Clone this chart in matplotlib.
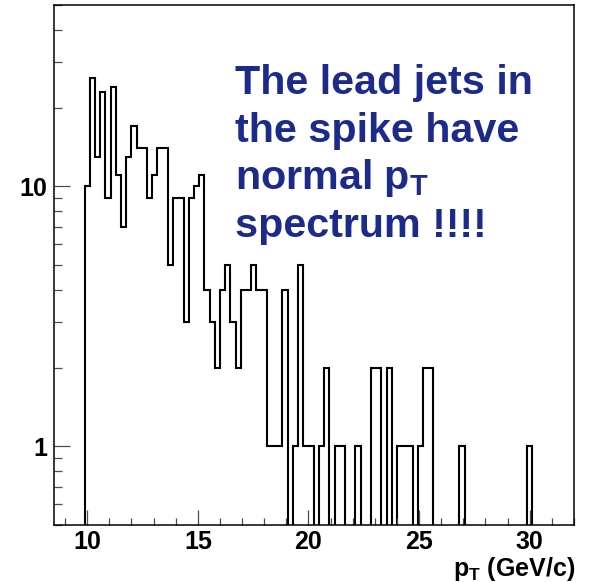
import numpy as np
import matplotlib.pyplot as plt
from matplotlib.ticker import FixedLocator, MultipleLocator, LogLocator, NullFormatter, FuncFormatter

# histogram: counts per bin, binning 170 bins over 0-40 GeV/c, first filled bin is #42
counts = [10, 26, 13, 23, 9, 24, 11, 7, 13, 17,
          14, 14, 9, 11, 14, 14, 5, 9, 9, 3,
          9, 10, 11, 4, 3, 2, 4, 5, 3, 2,
          4, 4, 5, 4, 4, 1, 1, 1, 4, 0,
          1, 5, 1, 1, 0, 1, 2, 0, 1, 1,
          0, 0, 1, 0, 0, 2, 2, 0, 2, 0,
          1, 1, 1, 0, 1, 2, 2, 0, 0, 0,
          0, 0, 1, 0, 0, 0, 0, 0, 0, 0,
          0, 0, 0, 0, 0, 1]
n_bins_total = 170
hist_max = 40.0
first_bin = 42

x_ticks = [10, 15, 20, 25, 30]
y_ticks = [1, 10]
x_title = r"p$_\mathregular{T}$ (GeV/c)"
note_lines = ["The lead jets in", "the spike have",
              r"normal p$_\mathregular{T}$", "spectrum !!!!"]

# style
W, H = 591, 582
note_color = '#1c2a8a'
tick_color = '0.3'
font = 'Liberation Sans'

plt.rcParams['font.family'] = font
plt.rcParams['font.weight'] = 'bold'
plt.rcParams['mathtext.fontset'] = 'custom'
plt.rcParams['mathtext.rm'] = font + ':bold'
plt.rcParams['mathtext.bf'] = font + ':bold'

fig = plt.figure(figsize=(W / 100, H / 100), dpi=100)
ax = fig.add_axes([54 / W, 1 - 524.5 / H, (574 - 54) / W, (524.5 - 4.5) / H])

width = hist_max / n_bins_total
edges = (first_bin + np.arange(len(counts) + 1)) * width
vals = np.array(counts, dtype=float)
floor = 1e-3
ax.stairs(np.where(vals > 0, vals, floor), edges, baseline=floor,
          color='black', lw=1.5)

ax.set_yscale('log')
ax.set_xlim(8.5, 32)
ax.set_ylim(0.5, 50)

ax.xaxis.set_major_locator(FixedLocator(x_ticks))
ax.xaxis.set_minor_locator(MultipleLocator(1))
ax.yaxis.set_major_locator(FixedLocator(y_ticks))
ax.yaxis.set_minor_locator(LogLocator(base=10, subs=np.arange(2, 10)))
ax.yaxis.set_major_formatter(FuncFormatter(lambda v, p: '%g' % v))
ax.yaxis.set_minor_formatter(NullFormatter())

ax.tick_params(which='both', direction='in', top=False, right=False,
               color=tick_color, width=0.9, labelsize=18)
ax.tick_params(axis='x', which='major', length=11, pad=4)
ax.tick_params(axis='x', which='minor', length=5)
ax.tick_params(axis='y', which='major', length=11.5, pad=5)
ax.tick_params(axis='y', which='minor', length=6)
for s in ax.spines.values():
    s.set_linewidth(1.1)

fig.text(575 / W, 1 - 576 / H, x_title, ha='right', va='baseline',
         fontsize=18, fontweight='bold')

for i, line in enumerate(note_lines):
    fig.text(235 / W, 1 - (94 + 47.7 * i) / H, line, ha='left', va='baseline',
             fontsize=29.7, fontweight='bold', color=note_color)

fig.savefig('out.png', dpi=100)
